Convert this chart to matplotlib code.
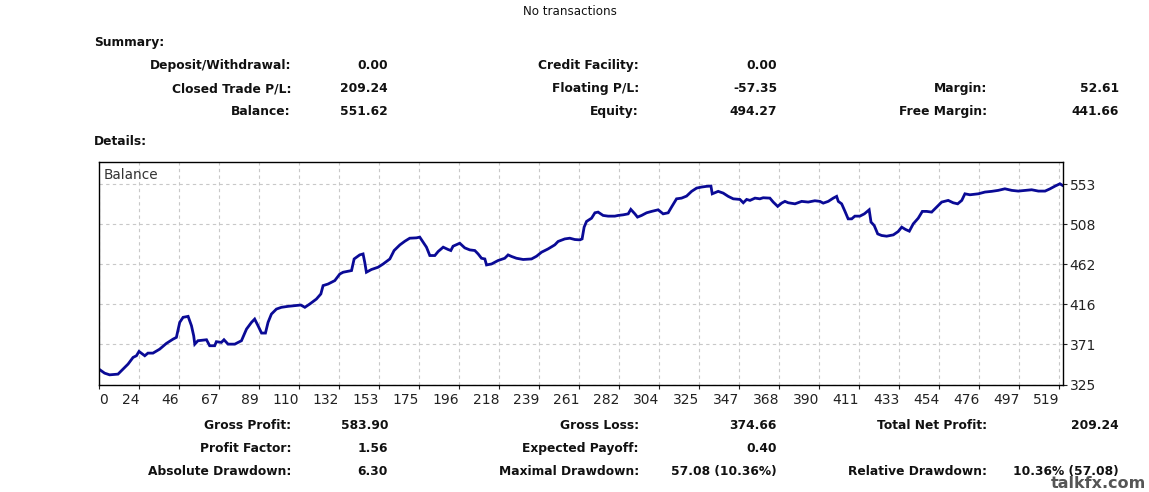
import matplotlib
matplotlib.use("Agg")
import matplotlib.pyplot as plt

# balance curve, trade number vs balance
trade_no = [2.5, 5.5, 8.2, 12.7, 15.4, 18.1, 20.8, 22.6, 24.0, 27.1, 28.8, 31.5, 35.1, 38.7,
            42.3, 44.1, 45.9, 47.7, 50.4, 52.2, 53.4, 54.0, 55.7, 60.3, 62.0, 64.7, 65.6,
            68.3, 69.7, 71.9, 75.5, 79.1, 81.8, 84.5, 86.2, 88.0, 89.9, 92.0, 93.4, 95.2,
            97.9, 100.6, 104.2, 107.8, 111.0, 113.2, 115.8, 119.4, 121.8, 123.0, 125.7,
            129.3, 132.0, 133.8, 138.3, 139.7, 142.7, 144.5, 145.4, 146.3, 149.0, 152.6,
            155.3, 158.9, 161.2, 164.3, 167.0, 169.6, 173.2, 175.0, 176.8, 178.6, 180.4,
            183.1, 184.9, 187.6, 190.2, 191.7, 192.9, 196.5, 199.2, 201.9, 204.6, 206.4,
            208.2, 210.0, 210.9, 213.6, 217.1, 220.7, 222.5, 224.4, 227.0, 230.6, 235.1,
            237.8, 240.5, 244.0, 247.6, 249.4, 253.0, 255.7, 258.4, 261.1, 262.3, 263.4,
            264.7, 267.4, 269.2, 270.9, 273.6, 276.3, 279.9, 281.7, 284.4, 287.1, 288.5,
            290.7, 292.1, 294.3, 297.0, 299.7, 303.2, 305.9, 308.6, 310.4, 313.1, 315.8,
            318.5, 321.2, 323.9, 326.6, 329.3, 331.6, 332.3, 335.5, 338.2, 340.9, 343.6,
            347.2, 349.0, 350.8, 352.6, 355.3, 357.9, 359.7, 363.3, 365.1, 367.5, 369.6,
            371.4, 373.2, 376.8, 380.4, 383.9, 387.5, 390.2, 392.0, 394.7, 397.4, 399.2,
            400.1, 401.9, 403.7, 405.4, 407.3, 409.0, 411.7, 414.1, 416.7, 417.7, 419.4,
            421.3, 423.4, 426.1, 429.7, 432.3, 434.2, 436.3, 438.3, 440.4, 443.1, 445.3,
            447.6, 450.3, 453.0, 455.7, 459.2, 461.9, 464.3, 466.5, 468.2, 470.9, 475.4,
            479.0, 482.6, 486.1, 489.7, 493.4, 496.9, 500.5, 504.1, 507.7, 511.3, 514.0,
            516.7, 519.3, 520.6]
balance = [342.4, 337.9, 336.0, 336.8, 342.5, 348.2, 355.8, 357.7, 362.6, 357.7, 360.7, 360.7,
           365.2, 371.7, 376.6, 378.6, 395.7, 401.4, 402.5, 391.9, 380.5, 370.9, 374.8, 375.9,
           369.1, 369.1, 373.7, 372.9, 375.9, 370.9, 370.9, 374.8, 388.0, 395.7, 399.4, 391.9,
           383.5, 383.5, 395.7, 405.1, 410.8, 412.8, 413.9, 414.7, 415.4, 412.8, 416.5, 422.2,
           428.0, 437.5, 439.3, 443.2, 450.7, 452.7, 454.6, 467.8, 472.4, 473.5, 464.1, 452.7,
           455.8, 458.4, 462.1, 467.8, 477.4, 483.8, 488.0, 491.4, 491.8, 492.6, 486.9, 481.2,
           471.7, 471.7, 476.3, 481.2, 478.6, 477.4, 482.3, 485.7, 480.4, 478.1, 477.4, 473.5,
           468.6, 467.8, 461.0, 462.1, 466.0, 468.6, 472.4, 470.6, 468.6, 467.2, 467.8, 470.9,
           475.5, 479.2, 483.8, 487.7, 490.6, 491.4, 489.9, 489.5, 490.6, 504.0, 510.5, 514.2,
           520.3, 521.1, 517.3, 516.5, 516.5, 517.3, 518.0, 519.1, 524.2, 519.1, 515.4, 517.3,
           520.3, 521.9, 523.7, 519.1, 520.3, 526.8, 536.2, 537.0, 539.3, 544.7, 548.4, 549.6,
           550.4, 550.7, 541.9, 544.7, 542.7, 539.0, 536.2, 535.5, 531.7, 535.5, 534.4, 537.0,
           536.2, 537.4, 537.0, 532.5, 527.6, 531.3, 533.3, 531.7, 530.5, 533.3, 532.5, 534.0,
           533.3, 531.3, 533.3, 537.0, 539.0, 533.3, 530.5, 521.9, 513.4, 513.4, 516.5, 516.5,
           519.1, 523.7, 509.7, 505.9, 496.3, 494.5, 493.7, 495.2, 499.0, 504.0, 501.3, 499.4,
           507.7, 514.2, 521.9, 521.9, 521.1, 526.8, 532.5, 534.4, 531.7, 530.5, 534.4, 541.9,
           540.8, 541.9, 543.9, 544.7, 545.8, 547.6, 545.8, 545.0, 545.8, 546.5, 545.0, 545.0,
           547.6, 550.7, 553.3, 551.6]

x_labels = ["24", "46", "67", "89", "110", "132", "153", "175", "196", "218", "239", "261",
            "282", "304", "325", "347", "368", "390", "411", "433", "454", "476", "497", "519"]
x_step = 21.52
x_first = 24.0
y_ticks = [325, 371, 416, 462, 508, 553]
y_step = 45.6

summary_rows = [
    [("Deposit/Withdrawal:", "0.00"), ("Credit Facility:", "0.00"), None],
    [("Closed Trade P/L:", "209.24"), ("Floating P/L:", "-57.35"), ("Margin:", "52.61")],
    [("Balance:", "551.62"), ("Equity:", "494.27"), ("Free Margin:", "441.66")],
]
details_rows = [
    [("Gross Profit:", "583.90"), ("Gross Loss:", "374.66"), ("Total Net Profit:", "209.24")],
    [("Profit Factor:", "1.56"), ("Expected Payoff:", "0.40"), None],
    [("Absolute Drawdown:", "6.30"), ("Maximal Drawdown:", "57.08 (10.36%)"),
     ("Relative Drawdown:", "10.36% (57.08)")],
]

W, H = 1149, 492
fig = plt.figure(figsize=(W / 100, H / 100), dpi=100)
fig.patch.set_facecolor("white")


def px(x, y):
    return x / W, 1 - y / H


ax = fig.add_axes([99 / W, 1 - 384.5 / H, (1062.7 - 99) / W, (384.5 - 162) / H])
ax.plot(trade_no, balance, color="#0a0a96", linewidth=2.0, solid_joinstyle="miter")

x_left = x_first - x_step
x_ticks = [x_first + i * x_step for i in range(len(x_labels))]
ax.set_xlim(x_left, x_ticks[-1] + 3.4 / 40 * x_step)
ax.set_ylim(y_ticks[0], y_ticks[-1] + 22 / 40 * y_step)

ax.set_xticks([x_left] + x_ticks)
ax.set_xticklabels(["0"] + x_labels)
for i, lab in enumerate(ax.get_xticklabels()):
    lab.set_ha("left" if i == 0 else "right")
ax.set_yticks([y_ticks[0] + i * y_step for i in range(len(y_ticks))])
ax.set_yticklabels([str(v) for v in y_ticks])
ax.yaxis.tick_right()
ax.tick_params(axis="both", direction="out", length=3, width=0.8, colors="#222222",
               labelsize=10)
ax.tick_params(axis="x", pad=3)
ax.tick_params(axis="y", pad=2)

ax.grid(True, color="#c8c8c8", linestyle=(0, (3, 3)), linewidth=0.8)
ax.set_axisbelow(True)
for s in ax.spines.values():
    s.set_color("#000000")
    s.set_linewidth(1.0)

fig.text(*px(104, 179), "Balance", fontsize=9.8, color="#333333", ha="left",
         va="baseline")

bold = dict(fontsize=8.8, fontweight="bold", color="#111111", va="baseline")
fig.text(*px(570, 15), "No transactions", fontsize=8.6, color="#111111", ha="center",
         va="baseline")
fig.text(*px(94, 46), "Summary:", ha="left", **bold)
fig.text(*px(94, 145), "Details:", ha="left", **bold)

label_x = [291, 639, 987]
value_x = [388, 777, 1119]


def draw_rows(rows, y0):
    for r, row in enumerate(rows):
        y = y0 + r * 23
        for c, cell in enumerate(row):
            if cell is None:
                continue
            fig.text(*px(label_x[c], y), cell[0], ha="right", **bold)
            fig.text(*px(value_x[c], y), cell[1], ha="right", **bold)


draw_rows(summary_rows, 69)
draw_rows(details_rows, 429)

fig.text(*px(1146, 488), "talkfx.com", ha="right", va="baseline", fontsize=11.5,
         fontweight="bold", color="#555555")

fig.savefig("out.png", dpi=100, facecolor="white")
